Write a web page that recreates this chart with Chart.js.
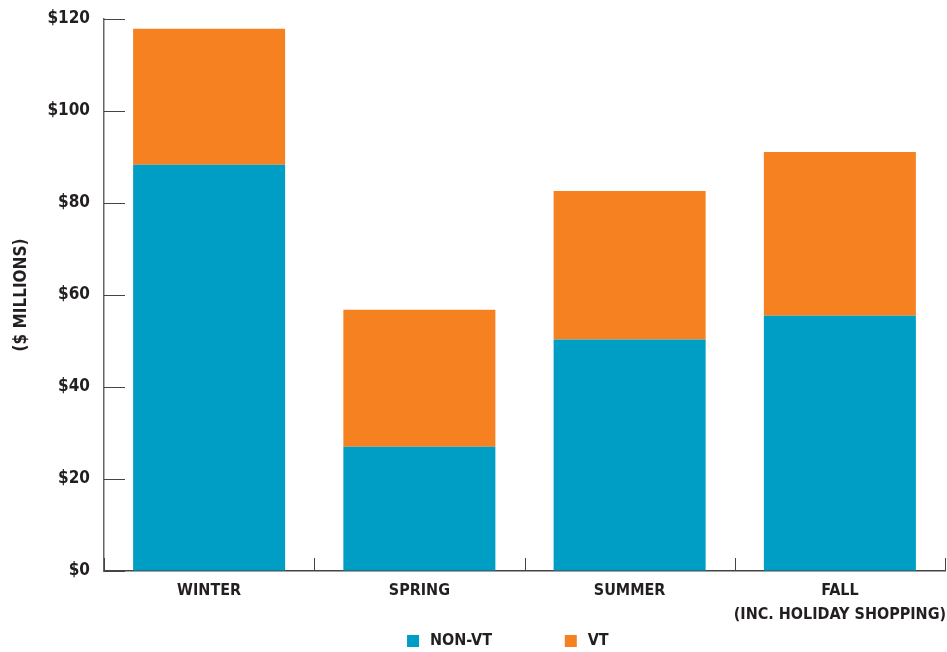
<!DOCTYPE html>
<html>
<head>
<meta charset="utf-8">
<script src="https://cdn.jsdelivr.net/npm/chart.js@4"></script>
<style>
  html, body { margin: 0; padding: 0; background: #fff; }
  #wrap { width: 947px; height: 652px; }
</style>
</head>
<body>
<div id="wrap"><canvas id="seasonchart"></canvas></div>
<script>
const seasons = ['WINTER', 'SPRING', 'SUMMER', ['FALL', '(INC. HOLIDAY SHOPPING)']];
const nonVt = [88.3, 27.0, 50.3, 55.5];
const vt = [29.6, 29.8, 32.3, 35.6];
const yTicks = [0, 20, 40, 60, 80, 100, 120];

const FONT = "'DejaVu Sans Condensed', 'DejaVu Sans', sans-serif";
const INK = '#231f20';

Chart.defaults.font.family = FONT;
Chart.defaults.font.weight = 'bold';
Chart.defaults.color = INK;

// legend sits right of centre with a wide gap between the two items
const spacedLabels = (chart) => {
  const items = Chart.defaults.plugins.legend.labels.generateLabels(chart);
  items.forEach((item, i) => {
    item.text = '\u2009' + item.text + (i === 0 ? '\u2003\u2003\u2003\u2003\u2002' : '');
  });
  items.unshift({
    text: '\u2003\u2003\u2009',
    fillStyle: 'rgba(0,0,0,0)',
    strokeStyle: 'rgba(0,0,0,0)',
    lineWidth: 0,
    hidden: false,
    datasetIndex: -1,
  });
  return items;
};

// tick marks point into the plot in the original
const innerTicks = {
  id: 'innerTicks',
  afterDraw(chart) {
    const { ctx, chartArea, scales } = chart;
    ctx.save();
    ctx.strokeStyle = '#444';
    ctx.lineWidth = 1;
    ctx.beginPath();
    scales.y.ticks.forEach((t) => {
      const y = Math.round(scales.y.getPixelForValue(t.value)) + 0.5;
      ctx.moveTo(chartArea.left, y);
      ctx.lineTo(chartArea.left + 21, y);
    });
    for (let i = 0; i <= seasons.length; i++) {
      const x = Math.round(scales.x.getPixelForValue(i - 0.5)) + 0.5;
      ctx.moveTo(x, chartArea.bottom);
      ctx.lineTo(x, chartArea.bottom - 13);
    }
    ctx.stroke();
    ctx.restore();
  },
};

new Chart(document.getElementById('seasonchart'), {
  type: 'bar',
  data: {
    labels: seasons,
    datasets: [
      { label: 'NON-VT', data: nonVt, backgroundColor: '#009ec5' },
      { label: 'VT', data: vt, backgroundColor: '#f58121' },
    ],
  },
  plugins: [innerTicks],
  options: {
    responsive: true,
    maintainAspectRatio: false,
    animation: false,
    datasets: {
      bar: { categoryPercentage: 1, barPercentage: 0.723 },
    },
    layout: { padding: { top: 19, right: 2, left: 11, bottom: -7 } },
    scales: {
      x: {
        stacked: true,
        grid: { drawOnChartArea: false, drawTicks: false },
        border: { color: '#444', width: 1.5 },
        ticks: {
          padding: 8,
          maxRotation: 0,
          autoSkip: false,
          font: { size: 16, lineHeight: 1.5 },
          color: INK,
        },
        afterFit: (scale) => {
          scale.height = 54;
          scale.paddingLeft = 0;
          scale.paddingRight = 0;
        },
      },
      y: {
        stacked: true,
        min: 0,
        max: 120,
        afterBuildTicks: (axis) => {
          axis.ticks = yTicks.map((v) => ({ value: v }));
        },
        grid: { drawOnChartArea: false, drawTicks: false },
        border: { color: '#666', width: 1.5 },
        ticks: {
          padding: 14,
          font: { size: 17 },
          color: INK,
          callback: (v) => '$' + v,
        },
        title: {
          display: true,
          text: '($ MILLIONS)',
          font: { size: 17 },
          color: INK,
          padding: { top: 0, bottom: 4 },
        },
        afterFit: (scale) => {
          scale.width = 93;
          scale.paddingTop = 0;
          scale.paddingBottom = 0;
        },
      },
    },
    plugins: {
      legend: {
        position: 'bottom',
        labels: {
          boxWidth: 12,
          boxHeight: 12,
          padding: 8,
          font: { size: 16 },
          color: INK,
          generateLabels: spacedLabels,
        },
      },
      tooltip: { enabled: false },
    },
  },
});
</script>
</body>
</html>
